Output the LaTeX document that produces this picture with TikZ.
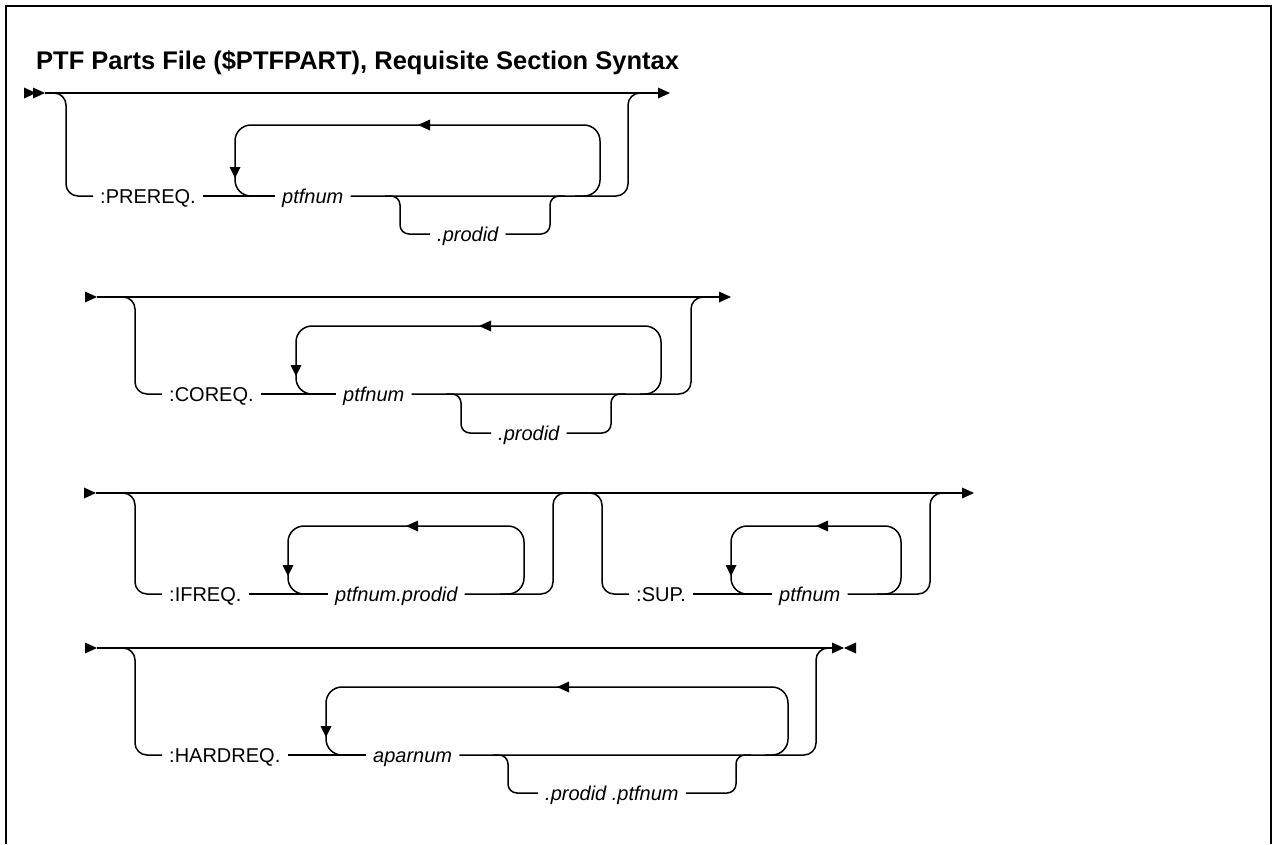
\documentclass[tikz,border=0pt]{standalone}
\usepackage{fontspec}
\setmainfont{Liberation Sans}
\newcommand\railR[2]{\fill (#1-12,#2-5.5) -- (#1,#2) -- (#1-12,#2+5.5) -- cycle;}
\newcommand\railL[2]{\fill (#1+12,#2-5.5) -- (#1,#2) -- (#1+12,#2+5.5) -- cycle;}
\newcommand\railD[2]{\fill (#1-5.5,#2-11) -- (#1,#2) -- (#1+5.5,#2-11) -- cycle;}
\begin{document}
\begin{tikzpicture}[x=1pt,y=-1pt,
  rail/.style={line width=1.5pt, line join=round},
  lbl/.style={font=\fontsize{20}{24}\selectfont, text height=14pt, text depth=0pt, inner ysep=0pt, inner xsep=7pt, anchor=west},
  var/.style={lbl, font=\fontsize{20}{24}\selectfont\itshape},
  dropr/.style={rail, rounded corners=12pt},
  loopr/.style={rail, rounded corners=16pt},
  branchr/.style={rail, rounded corners=9pt}]
\useasboundingbox (0,0) rectangle (1274,844);
\fill[white] (0,0) rectangle (1274,844);
\draw[line width=2.5pt] (6,844) -- (6,6) -- (1271,6) -- (1271,844);
\node[anchor=base west, inner sep=0pt, font=\fontsize{25.5}{30}\selectfont\bfseries] (title) at (36,69) {PTF Parts File (\$PTFPART), Requisite Section Syntax};

% ---------- Row 1 ----------
\railR{36}{93}\railR{45}{93}
\draw[rail] (45,93) -- (658,93);
\railR{670}{93}
\node[lbl] (pre) at (93,196) {:PREREQ.};
\node[var] (p1) at (275,196) {ptfnum};
\node[var] (d1) at (430,234) {.prodid};
\draw[dropr] (50,93) -- (66,93) -- (66,196) -- (pre.west);
\draw[rail] (pre.east) -- (p1.west);
\draw[dropr] (p1.east) -- (628,196) -- (628,93) -- (645,93);
\draw[loopr] (575,196) -- (600,196) -- (600,125) -- (235,125) -- (235,196) -- (260,196);
\railL{418}{125}\railD{235}{178}
\draw[branchr] (385,196) -- (400,196) -- (400,234) -- (d1.west);
\draw[branchr] (d1.east) -- (550,234) -- (550,196) -- (565,196);

% ---------- Row 2 ----------
\railR{97}{297}
\draw[rail] (97,297) -- (719,297);
\railR{731}{297}
\node[lbl] (co) at (162,394) {:COREQ.};
\node[var] (p2) at (336,394) {ptfnum};
\node[var] (d2) at (491,433) {.prodid};
\draw[dropr] (118,297) -- (135,297) -- (135,394) -- (co.west);
\draw[rail] (co.east) -- (p2.west);
\draw[dropr] (p2.east) -- (691,394) -- (691,297) -- (708,297);
\draw[loopr] (640,394) -- (661,394) -- (661,326) -- (296,326) -- (296,394) -- (320,394);
\railL{479}{326}\railD{296}{376}
\draw[branchr] (446,394) -- (461,394) -- (461,433) -- (d2.west);
\draw[branchr] (d2.east) -- (611,433) -- (611,394) -- (626,394);

% ---------- Row 3 ----------
\railR{96}{493}
\draw[rail] (96,493) -- (962,493);
\railR{974}{493}
\node[lbl] (ifq) at (162,594) {:IFREQ.};
\node[var] (pp) at (328,594) {ptfnum.prodid};
\node[lbl] (su) at (629,594) {:SUP.};
\node[var] (p3) at (772,594) {ptfnum};
\draw[dropr] (118,493) -- (135,493) -- (135,594) -- (ifq.west);
\draw[rail] (ifq.east) -- (pp.west);
\draw[dropr] (pp.east) -- (553,594) -- (553,493) -- (570,493);
\draw[loopr] (500,594) -- (524,594) -- (524,526) -- (288,526) -- (288,594) -- (310,594);
\railL{406}{526}\railD{288}{576}
\draw[dropr] (585,493) -- (602,493) -- (602,594) -- (su.west);
\draw[rail] (su.east) -- (p3.west);
\draw[dropr] (p3.east) -- (930,594) -- (930,493) -- (947,493);
\draw[loopr] (877,594) -- (901,594) -- (901,526) -- (731,526) -- (731,594) -- (755,594);
\railL{816}{526}\railD{731}{576}

% ---------- Row 4 ----------
\railR{97}{648}
\draw[rail] (97,648) -- (834,648);
\railR{844}{648}\railL{844}{648}
\node[lbl] (hr) at (162,755) {:HARDREQ.};
\node[var] (ap) at (366,755) {aparnum};
\node[var] (d4) at (538,793) {.prodid .ptfnum};
\draw[dropr] (118,648) -- (135,648) -- (135,755) -- (hr.west);
\draw[rail] (hr.east) -- (ap.west);
\draw[dropr] (ap.east) -- (816,755) -- (816,648) -- (830,648);
\draw[loopr] (765,755) -- (788,755) -- (788,687) -- (326,687) -- (326,755) -- (350,755);
\railL{557}{687}\railD{326}{737}
\draw[branchr] (493,755) -- (508,755) -- (508,793) -- (d4.west);
\draw[branchr] (d4.east) -- (736,793) -- (736,755) -- (751,755);
\end{tikzpicture}
\end{document}
